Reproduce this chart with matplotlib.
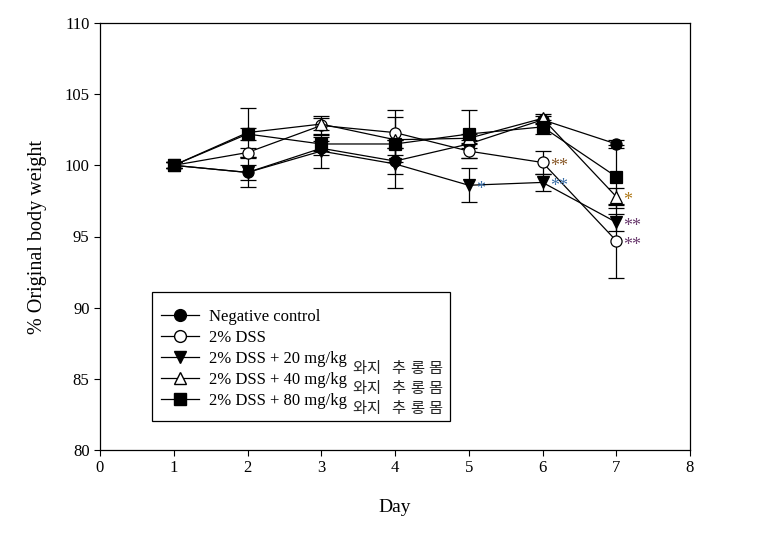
import matplotlib
matplotlib.use('Agg')
import matplotlib.pyplot as plt
from matplotlib.patches import Rectangle
from matplotlib.lines import Line2D
import numpy as np

# Data
days = np.array([1, 2, 3, 4, 5, 6, 7])

neg = np.array([100, 99.5, 101.2, 100.3, 101.5, 103.2, 101.5])
neg_err = np.array([0.2, 1.0, 0.5, 0.9, 0.3, 0.3, 0.3])

dss = np.array([100, 100.9, 102.8, 102.3, 101.0, 100.2, 94.7])
dss_err = np.array([0.2, 0.3, 0.7, 1.6, 0.5, 0.8, 2.6])

d20 = np.array([100, 99.5, 101.0, 100.1, 98.6, 98.8, 96.0])
d20_err = np.array([0.2, 0.5, 1.2, 1.7, 1.2, 0.6, 0.6])

d40 = np.array([100, 102.3, 102.9, 101.8, 101.9, 103.3, 97.8])
d40_err = np.array([0.2, 1.7, 0.4, 1.6, 0.3, 0.3, 0.6])

d80 = np.array([100, 102.2, 101.5, 101.5, 102.2, 102.7, 99.2])
d80_err = np.array([0.2, 0.4, 0.5, 0.3, 1.7, 0.5, 2.2])

labels = ['Negative control', '2% DSS', '2% DSS + 20 mg/kg',
          '2% DSS + 40 mg/kg', '2% DSS + 80 mg/kg']

# significance marks: (day, value, text, colour)
stars = [(5, 98.6, '*', '#3b6fa8'),
         (6, 100.2, '**', '#8a5a2a'),
         (6, 98.8, '**', '#3b6fa8'),
         (7, 97.8, '*', '#b07a1a'),
         (7, 96.0, '**', '#6a3a6e'),
         (7, 94.7, '**', '#6a3a6e')]

korean = ['와', '지', '추', '롱', '몸']
korean_x = [352, 366, 391, 410, 428]   # pixel x of each glyph
korean_rows = [369, 389, 409]

serif = ['Liberation Serif', 'DejaVu Serif']
plt.rcParams['font.family'] = serif

fig = plt.figure(figsize=(7.65, 5.37), dpi=100)
ax = fig.add_axes([100/765, 1-450/537, 590/765, 427/537])

series = [(neg, neg_err, 'o', 'black'),
          (dss, dss_err, 'o', 'white'),
          (d20, d20_err, 'v', 'black'),
          (d40, d40_err, '^', 'white'),
          (d80, d80_err, 's', 'black')]

handles = []
for (vals, err, mk, fc), lab in zip(series, labels):
    ax.errorbar(days, vals, yerr=err, color='black', lw=0.9,
                marker=mk, markersize=8, markerfacecolor=fc,
                markeredgecolor='black', markeredgewidth=0.9,
                capsize=6, capthick=0.9, elinewidth=0.9)
    handles.append(Line2D([], [], color='black', lw=0.9, marker=mk,
                          markersize=8.5, markerfacecolor=fc,
                          markeredgecolor='black', label=lab))

for d, v, s, c in stars:
    ax.text(d + 0.1, v - 0.3, s, color=c, fontsize=13, ha='left', va='center')

ax.set_xlim(0, 8)
ax.set_ylim(80, 110)
ax.set_xticks(range(0, 9))
ax.set_yticks(range(80, 111, 5))
ax.tick_params(direction='out', length=4, width=0.8, labelsize=12)
for sp in ax.spines.values():
    sp.set_linewidth(0.9)

ax.set_xlabel('Day', fontsize=14, labelpad=16)
ax.set_ylabel('% Original body weight', fontsize=14.5, labelpad=13)

# legend drawn without frame, box added separately
leg = ax.legend(handles=handles, loc='upper left', frameon=False,
                bbox_to_anchor=((161-100)/590, (450-309)/427),
                borderaxespad=0, borderpad=0, fontsize=12,
                handlelength=2.3, handletextpad=0.6, labelspacing=0.3)
ax.add_patch(Rectangle(((152-100)/590, (450-421)/427), (450-152)/590,
                       (421-292)/427, transform=ax.transAxes, fill=False,
                       lw=0.9, edgecolor='black', zorder=5))

for yy in korean_rows:
    for ch, xx in zip(korean, korean_x):
        ax.text((xx-100)/590, (450-yy)/427, ch, transform=ax.transAxes,
                family=['Noto Sans CJK KR', 'DejaVu Sans'], fontsize=11,
                va='center', ha='left', color='#222222')

fig.savefig('out.png', dpi=100)
